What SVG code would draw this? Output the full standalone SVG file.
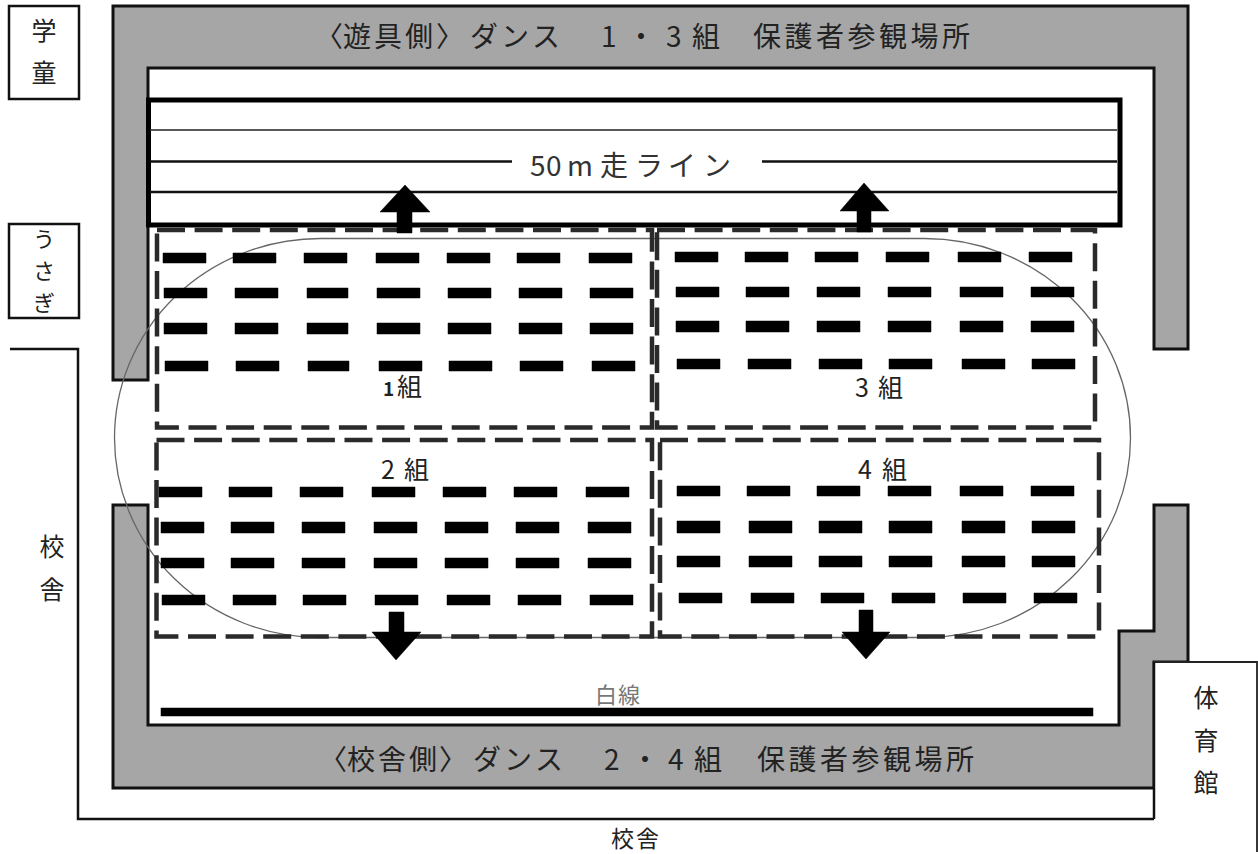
<svg xmlns="http://www.w3.org/2000/svg" width="1258" height="854" viewBox="0 0 1258 854">
<style>
text{font-family:"Noto Sans CJK JP","Noto Sans",sans-serif;fill:#222}
.v{font-size:25px;text-anchor:middle}
.u{font-size:22px;text-anchor:middle}
.t{font-size:28px}
.g{font-size:25px}
.wall{fill:#a6a6a6;stroke:#111;stroke-width:3}
.ln{fill:none;stroke:#111;stroke-width:2.5}
.d{fill:none;stroke:#2a2a2a;stroke-width:4.5;stroke-dasharray:28 9.6}
.b{fill:#000;stroke:#000;stroke-width:.5}
</style>
<rect width="1258" height="854" fill="#fff"/>
<g id="upper-stand"><path class="wall" d="M113 6H1188V349H1154V68H148V380H113Z"/><text class="t" y="47" x="315 343 374 405 436 470 501 532 563 601 627 666 692 725 753 784.500 816 847.500 879 910.500 942">〈遊具側〉ダンス　1・3組　保護者参観場所</text></g>
<g id="lower-stand"><path class="wall" d="M113 505H148V725H1119V631H1154V505H1188V662H1154V788H113Z"/><text class="t" y="770" x="319 347 378 409 439 473 504 535 566 604 631 668 694 727 757 788.500 820 851.500 883 914.500 946">〈校舎側〉ダンス　2・4組　保護者参観場所</text></g>
<g id="gakudo"><rect class="ln" x="9" y="6" width="70" height="93"/><text class="v" x="44" y="40">学</text><text class="v" x="44" y="82">童</text></g>
<g id="usagi"><rect class="ln" x="9" y="224" width="70" height="94"/><text class="u" x="44" y="247">う</text><text class="u" x="44" y="279">さ</text><text class="u" x="44" y="311">ぎ</text></g>
<g id="kosha"><path class="ln" d="M10 349H78V819H1154"/><text class="v" x="52" y="556">校</text><text class="v" x="52" y="599">舎</text><text x="611" y="847" font-size="23" letter-spacing="2">校舎</text></g>
<g id="gym"><path d="M1154 819V662H1257V852" fill="#fff" stroke="#222" stroke-width="1.800"/><path class="ln" d="M1154 819V662"/><text class="v" x="1206" y="707">体</text><text class="v" x="1206" y="750">育</text><text class="v" x="1206" y="792">館</text></g>
<g id="line50"><rect x="148.500" y="100" width="971.500" height="125" fill="#fff" stroke="#000" stroke-width="5"/><path fill="none" stroke="#222" stroke-width="1.600" d="M150 130H1117"/><path fill="none" stroke="#111" stroke-width="2.400" d="M150 161.500H512M762 161.500H1117M150 192H1117"/><text y="176" font-size="28" x="530 546 567 600 635 668 703" style="fill:#333">50m走ライン</text></g>
<g id="track"><rect x="114.500" y="238.500" width="1016" height="399" rx="206" ry="199.500" fill="none" stroke="#666" stroke-width="1.300"/></g>
<g id="group1"><rect class="d" x="157" y="230" width="495" height="197.500"/><text x="383" y="396"><tspan font-size="19" font-weight="700">1</tspan><tspan class="g" x="397">組</tspan></text>
<path class="b" d="M163 253h43v10h-43zM233 253h43v10h-43zM304 253h43v10h-43zM376 253h43v10h-43zM447 253h43v10h-43zM517 253h43v10h-43zM589 253h43v10h-43z"/>
<path class="b" d="M164 288h43v10h-43zM235 288h43v10h-43zM307 288h41v10h-41zM377 288h43v10h-43zM448 288h43v10h-43zM519 288h43v10h-43zM590 288h43v10h-43z"/>
<path class="b" d="M164 323h43v11h-43zM235 323h43v11h-43zM307 323h41v11h-41zM377 323h43v11h-43zM448 323h43v11h-43zM519 323h43v11h-43zM590 323h43v11h-43z"/>
<path class="b" d="M165 361h43v10h-43zM236 361h43v10h-43zM308 361h41v10h-41zM379 361h43v10h-43zM449 361h43v10h-43zM520 361h43v10h-43zM592 361h43v10h-43z"/></g>
<g id="group3"><rect class="d" x="657" y="230" width="438" height="197.500"/><text class="g" y="397" x="855 878">3組</text>
<path class="b" d="M675 252h43v10h-43zM745 252h43v10h-43zM815 252h43v10h-43zM886 252h43v10h-43zM958 252h43v10h-43zM1029 252h43v10h-43z"/>
<path class="b" d="M676 287h43v10h-43zM746 287h43v10h-43zM817 287h43v10h-43zM888 287h43v10h-43zM960 287h43v10h-43zM1031 287h43v10h-43z"/>
<path class="b" d="M676 321h43v11h-43zM746 321h43v11h-43zM817 321h43v11h-43zM888 321h43v11h-43zM960 321h43v11h-43zM1031 321h43v11h-43z"/>
<path class="b" d="M677 359h43v10h-43zM748 359h43v10h-43zM819 359h43v10h-43zM889 359h43v10h-43zM962 359h43v10h-43zM1032 359h43v10h-43z"/></g>
<g id="group2"><rect class="d" x="156.500" y="440" width="495.500" height="196.500"/><text class="g" y="479" x="381 404">2組</text>
<path class="b" d="M159 487h43v10h-43zM229 487h43v10h-43zM300 487h43v10h-43zM372 487h43v10h-43zM443 487h43v10h-43zM514 487h43v10h-43zM586 487h43v10h-43z"/>
<path class="b" d="M161 522h43v11h-43zM231 522h43v11h-43zM302 522h43v11h-43zM374 522h43v11h-43zM445 522h43v11h-43zM516 522h43v11h-43zM588 522h43v11h-43z"/>
<path class="b" d="M161 558h43v10h-43zM231 558h43v10h-43zM302 558h43v10h-43zM374 558h43v10h-43zM445 558h43v10h-43zM516 558h43v10h-43zM588 558h43v10h-43z"/>
<path class="b" d="M162 595h43v10h-43zM233 595h43v10h-43zM303 595h43v10h-43zM375 595h43v10h-43zM447 595h43v10h-43zM518 595h43v10h-43zM590 595h43v10h-43z"/></g>
<g id="group4"><rect class="d" x="660" y="440" width="439" height="196.500"/><text class="g" y="479" x="858 882">4組</text>
<path class="b" d="M677 486h43v10h-43zM747 486h43v10h-43zM817 486h43v10h-43zM888 486h43v10h-43zM960 486h43v10h-43zM1031 486h43v10h-43z"/>
<path class="b" d="M677 521h43v12h-43zM749 521h43v12h-43zM819 521h43v12h-43zM889 521h43v12h-43zM962 521h43v12h-43zM1032 521h43v12h-43z"/>
<path class="b" d="M677 556h43v11h-43zM749 556h43v11h-43zM819 556h43v11h-43zM889 556h43v11h-43zM962 556h43v11h-43zM1032 556h43v11h-43z"/>
<path class="b" d="M679 593h43v10h-43zM751 593h43v10h-43zM821 593h43v10h-43zM892 593h43v10h-43zM963 593h43v10h-43zM1034 593h43v10h-43z"/></g>
<g id="connectors">
<path class="b" d="M405 185L430 212H412V233H397V212H380Z"/>
<path class="b" d="M864 183L889 211H871V232H857V211H840Z"/>
<path class="b" d="M389 612H404V632H421L396 660L372 632H389Z"/>
<path class="b" d="M859 610H873V632H890L866 659L842 632H859Z"/>
</g>
<g id="white-line"><rect class="b" x="161" y="708" width="932" height="8"/><text x="595" y="703" font-size="22" letter-spacing="1" style="fill:#777">白線</text></g>
</svg>
